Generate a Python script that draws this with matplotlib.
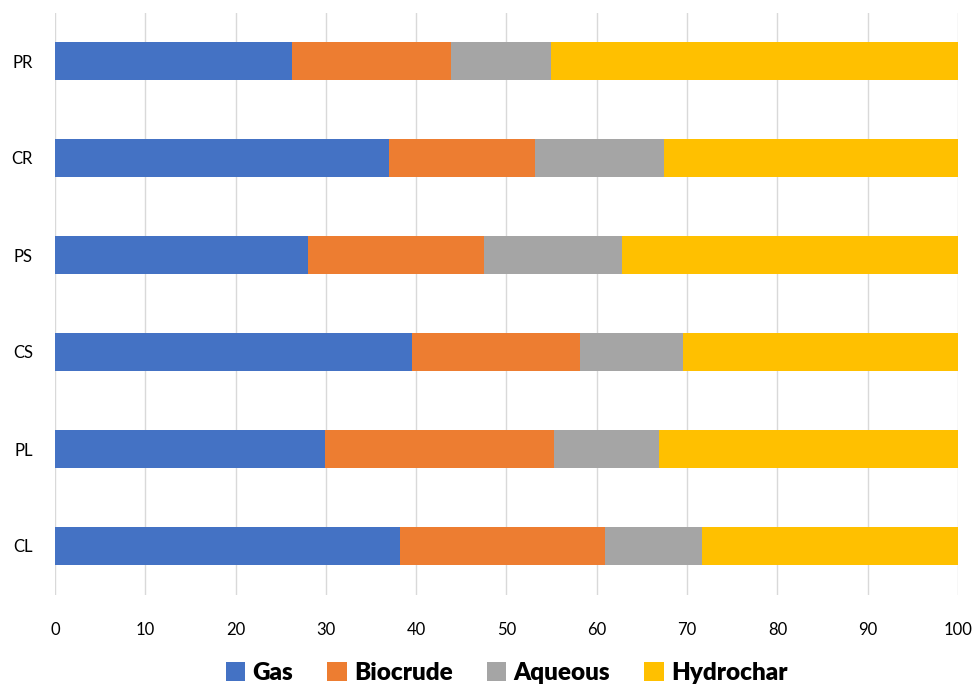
import matplotlib
matplotlib.use("Agg")
import matplotlib.pyplot as plt
import numpy as np

categories = ["CL", "PL", "CS", "PS", "CR", "PR"]
gas = [38.2, 29.9, 39.5, 28.0, 37.0, 26.2]
biocrude = [22.7, 25.4, 18.6, 19.5, 16.2, 17.7]
aqueous = [10.7, 11.6, 11.5, 15.3, 14.2, 11.0]
hydrochar = [28.4, 33.1, 30.4, 37.2, 32.6, 45.1]
series_names = ["Gas", "Biocrude", "Aqueous", "Hydrochar"]
colors = ["#4472C4", "#ED7D31", "#A5A5A5", "#FFC000"]
xticks = [0, 10, 20, 30, 40, 50, 60, 70, 80, 90, 100]

plt.rcParams['font.family'] = ['Lato', 'DejaVu Sans']

fig = plt.figure(figsize=(9.74, 6.85), dpi=100)
ax = fig.add_axes([55/974, (685-594.5)/685, (958-55)/974, 582/685])

y = np.arange(len(categories))
left = np.zeros(len(categories))
for name, vals, c in zip(series_names, [gas, biocrude, aqueous, hydrochar], colors):
    ax.barh(y, vals, left=left, height=0.4, color=c, label=name, zorder=3)
    left += np.array(vals)

ax.set_xlim(0, 100)
ax.set_ylim(-0.5, len(categories) - 0.5)
ax.set_xticks(xticks)
ax.set_yticks(y)
ax.set_yticklabels(categories)
ax.grid(axis='x', color='#D9D9D9', linewidth=1, zorder=0)
for s in ax.spines.values():
    s.set_visible(False)
ax.tick_params(axis='both', length=0, labelsize=12, colors='#000000')
ax.tick_params(axis='x', pad=20)
ax.tick_params(axis='y', pad=16)

leg = ax.legend(loc='center', bbox_to_anchor=(0.5, -0.135), ncol=4, frameon=False,
                prop={'weight': 'heavy', 'size': 17.5}, handlelength=0.8, handleheight=0.8,
                handletextpad=0.3, columnspacing=1.4)

fig.savefig("out.png", dpi=100)
